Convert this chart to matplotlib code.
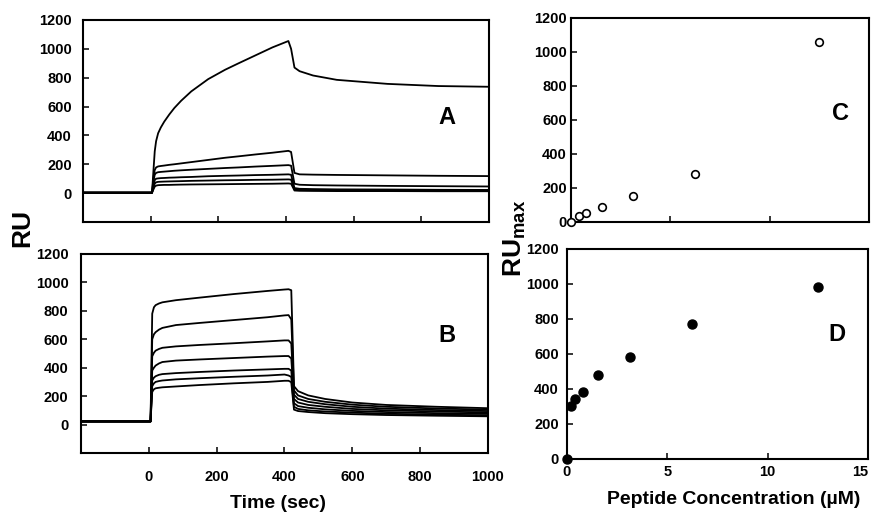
import matplotlib
matplotlib.use("Agg")
import matplotlib.pyplot as plt

plt.rcParams['font.family'] = ['Liberation Sans', 'DejaVu Sans']
plt.rcParams['font.weight'] = 'bold'
plt.rcParams['mathtext.fontset'] = 'custom'
plt.rcParams['mathtext.rm'] = 'Liberation Sans:bold'
plt.rcParams['mathtext.bf'] = 'Liberation Sans:bold'

# ---------------- data ----------------
# Panel A sensorgrams (time in s, RU)
time_a = [-200, 4, 8, 12, 16, 22, 30, 40, 55, 70, 90, 120, 170, 220, 260, 310, 360, 407, 415, 425, 440, 480, 550, 700, 850, 1000]
a_curve1 = [3, 3, 150, 290, 360, 415, 455, 495, 545, 590, 640, 705, 790, 855, 900, 955, 1010, 1054, 1000, 870, 845, 815, 785, 757, 742, 737]
a_curve2 = [3, 3, 100, 160, 178, 185, 188, 191, 196, 200, 206, 215, 230, 245, 255, 268, 280, 293, 285, 140, 130, 128, 126, 123, 120, 118]
a_curve3 = [3, 3, 80, 128, 140, 145, 147, 149, 152, 155, 158, 162, 168, 174, 178, 184, 189, 194, 190, 65, 58, 55, 53, 50, 48, 46]
a_curve4 = [3, 3, 55, 90, 100, 102, 104, 105, 107, 108, 110, 112, 117, 120, 122, 125, 127, 130, 127, 35, 30, 28, 26, 25, 23, 22]
a_curve5 = [3, 3, 40, 66, 75, 78, 79, 80, 81, 82, 83, 85, 87, 89, 90, 92, 93, 95, 93, 25, 22, 21, 20, 19, 18, 18]
a_curve6 = [3, 3, 25, 45, 52, 55, 56, 57, 57, 58, 59, 60, 61, 62, 63, 64, 65, 67, 65, 18, 16, 15, 14, 14, 13, 13]

# Panel B sensorgrams
time_b = [-200, 5, 10, 15, 20, 30, 40, 80, 150, 250, 350, 400, 412, 420, 428, 440, 470, 520, 600, 700, 850, 1000]
b_curve1 = [22, 22, 780, 825, 840, 852, 860, 875, 893, 918, 940, 950, 952, 945, 270, 235, 205, 180, 155, 138, 125, 115]
b_curve2 = [22, 22, 600, 635, 650, 668, 680, 700, 715, 735, 755, 768, 770, 740, 240, 205, 180, 160, 140, 125, 113, 105]
b_curve3 = [22, 22, 480, 505, 520, 532, 540, 550, 560, 572, 585, 592, 592, 570, 210, 180, 160, 143, 125, 112, 102, 95]
b_curve4 = [22, 22, 380, 400, 415, 430, 440, 450, 458, 468, 478, 482, 482, 465, 180, 155, 138, 125, 110, 100, 92, 85]
b_curve5 = [22, 22, 310, 330, 340, 350, 355, 362, 370, 380, 388, 392, 392, 380, 150, 130, 118, 107, 96, 88, 80, 75]
b_curve6 = [22, 22, 270, 290, 300, 306, 310, 318, 326, 336, 345, 352, 345, 335, 125, 110, 100, 92, 84, 76, 70, 65]
b_curve7 = [22, 22, 230, 248, 255, 259, 262, 268, 278, 290, 300, 308, 308, 298, 105, 95, 88, 80, 73, 67, 62, 58]

# Panel C / D : RUmax vs peptide concentration (uM)
conc_c = [0, 0.39, 0.78, 1.56, 3.125, 6.25, 12.5]
rumax_c = [0, 33, 51, 89, 152, 281, 1056]
conc_d = [0, 0.195, 0.39, 0.78, 1.56, 3.125, 6.25, 12.5]
rumax_d = [0, 300, 345, 385, 480, 585, 770, 985]

time_ticks = [0, 200, 400, 600, 800, 1000]
ru_ticks = [0, 200, 400, 600, 800, 1000, 1200]
conc_ticks = [0, 5, 10, 15]

# ---------------- figure ----------------
fig = plt.figure(figsize=(8.72, 5.13), dpi=100)

axA = fig.add_axes([0.0952, 0.5673, 0.4656, 0.3938])
axB = fig.add_axes([0.0929, 0.1170, 0.4667, 0.3879])
axC = fig.add_axes([0.6548, 0.5673, 0.3417, 0.3977])
axD = fig.add_axes([0.6502, 0.1053, 0.3452, 0.4094])

def style(ax, xpad, ypad):
    for s in ax.spines.values():
        s.set_linewidth(1.5)
    ax.tick_params(direction='in', length=4, width=1.1, labelsize=10.5)
    ax.tick_params(axis='x', pad=xpad)
    ax.tick_params(axis='y', pad=ypad)
    for lab in ax.get_xticklabels() + ax.get_yticklabels():
        lab.set_fontweight('bold')

lw = 1.3
for c in [a_curve1, a_curve2, a_curve3, a_curve4, a_curve5, a_curve6]:
    axA.plot(time_a, c, color='black', lw=lw)
axA.set_xlim(-200, 1000)
axA.set_ylim(-200, 1200)
axA.set_xticks(time_ticks)
axA.set_xticklabels([])
axA.set_yticks(ru_ticks)
style(axA, 4, 8)
axA.text(0.897, 0.515, 'A', transform=axA.transAxes, fontsize=17,
         fontweight='bold', ha='center', va='center')

for c in [b_curve1, b_curve2, b_curve3, b_curve4, b_curve5, b_curve6, b_curve7]:
    axB.plot(time_b, c, color='black', lw=lw)
axB.set_xlim(-200, 1000)
axB.set_ylim(-200, 1200)
axB.set_xticks(time_ticks)
axB.set_yticks(ru_ticks)
style(axB, 12, 9)
axB.text(0.899, 0.588, 'B', transform=axB.transAxes, fontsize=17,
         fontweight='bold', ha='center', va='center')

axC.plot(conc_c, rumax_c, linestyle='none', marker='o', markersize=5.5,
         markerfacecolor='white', markeredgecolor='black', markeredgewidth=1.2,
         clip_on=False, zorder=5)
axC.set_xlim(0, 15)
axC.set_ylim(0, 1200)
axC.set_xticks([5, 10])
axC.set_xticklabels([])
axC.set_yticks(ru_ticks)
style(axC, 4, 3)
axC.text(0.906, 0.534, 'C', transform=axC.transAxes, fontsize=17,
         fontweight='bold', ha='center', va='center')

axD.plot(conc_d, rumax_d, linestyle='none', marker='o', markersize=6.5,
         markerfacecolor='black', markeredgecolor='black',
         clip_on=False, zorder=5)
axD.set_xlim(0, 15)
axD.set_ylim(0, 1200)
axD.set_xticks(conc_ticks)
axD.set_yticks(ru_ticks)
style(axD, 4, 6)
axD.get_xticklabels()[-1].set_horizontalalignment('right')
axD.text(0.897, 0.595, 'D', transform=axD.transAxes, fontsize=17,
         fontweight='bold', ha='center', va='center')

# axis labels
fig.text(22 / 872, 1 - 228 / 513, 'RU', rotation=90, fontsize=19,
         fontweight='bold', ha='center', va='center')
fig.text(515 / 872, 1 - 238 / 513, r'RU$_{\mathrm{max}}$', rotation=90, fontsize=19,
         fontweight='bold', ha='center', va='center')
fig.text(278 / 872, 1 - 503 / 513, 'Time (sec)', fontsize=14,
         fontweight='bold', ha='center', va='center')
fig.text(734 / 872, 1 - 499 / 513, 'Peptide Concentration (\u00b5M)', fontsize=14,
         fontweight='bold', ha='center', va='center')

fig.savefig('out.png', dpi=100)
